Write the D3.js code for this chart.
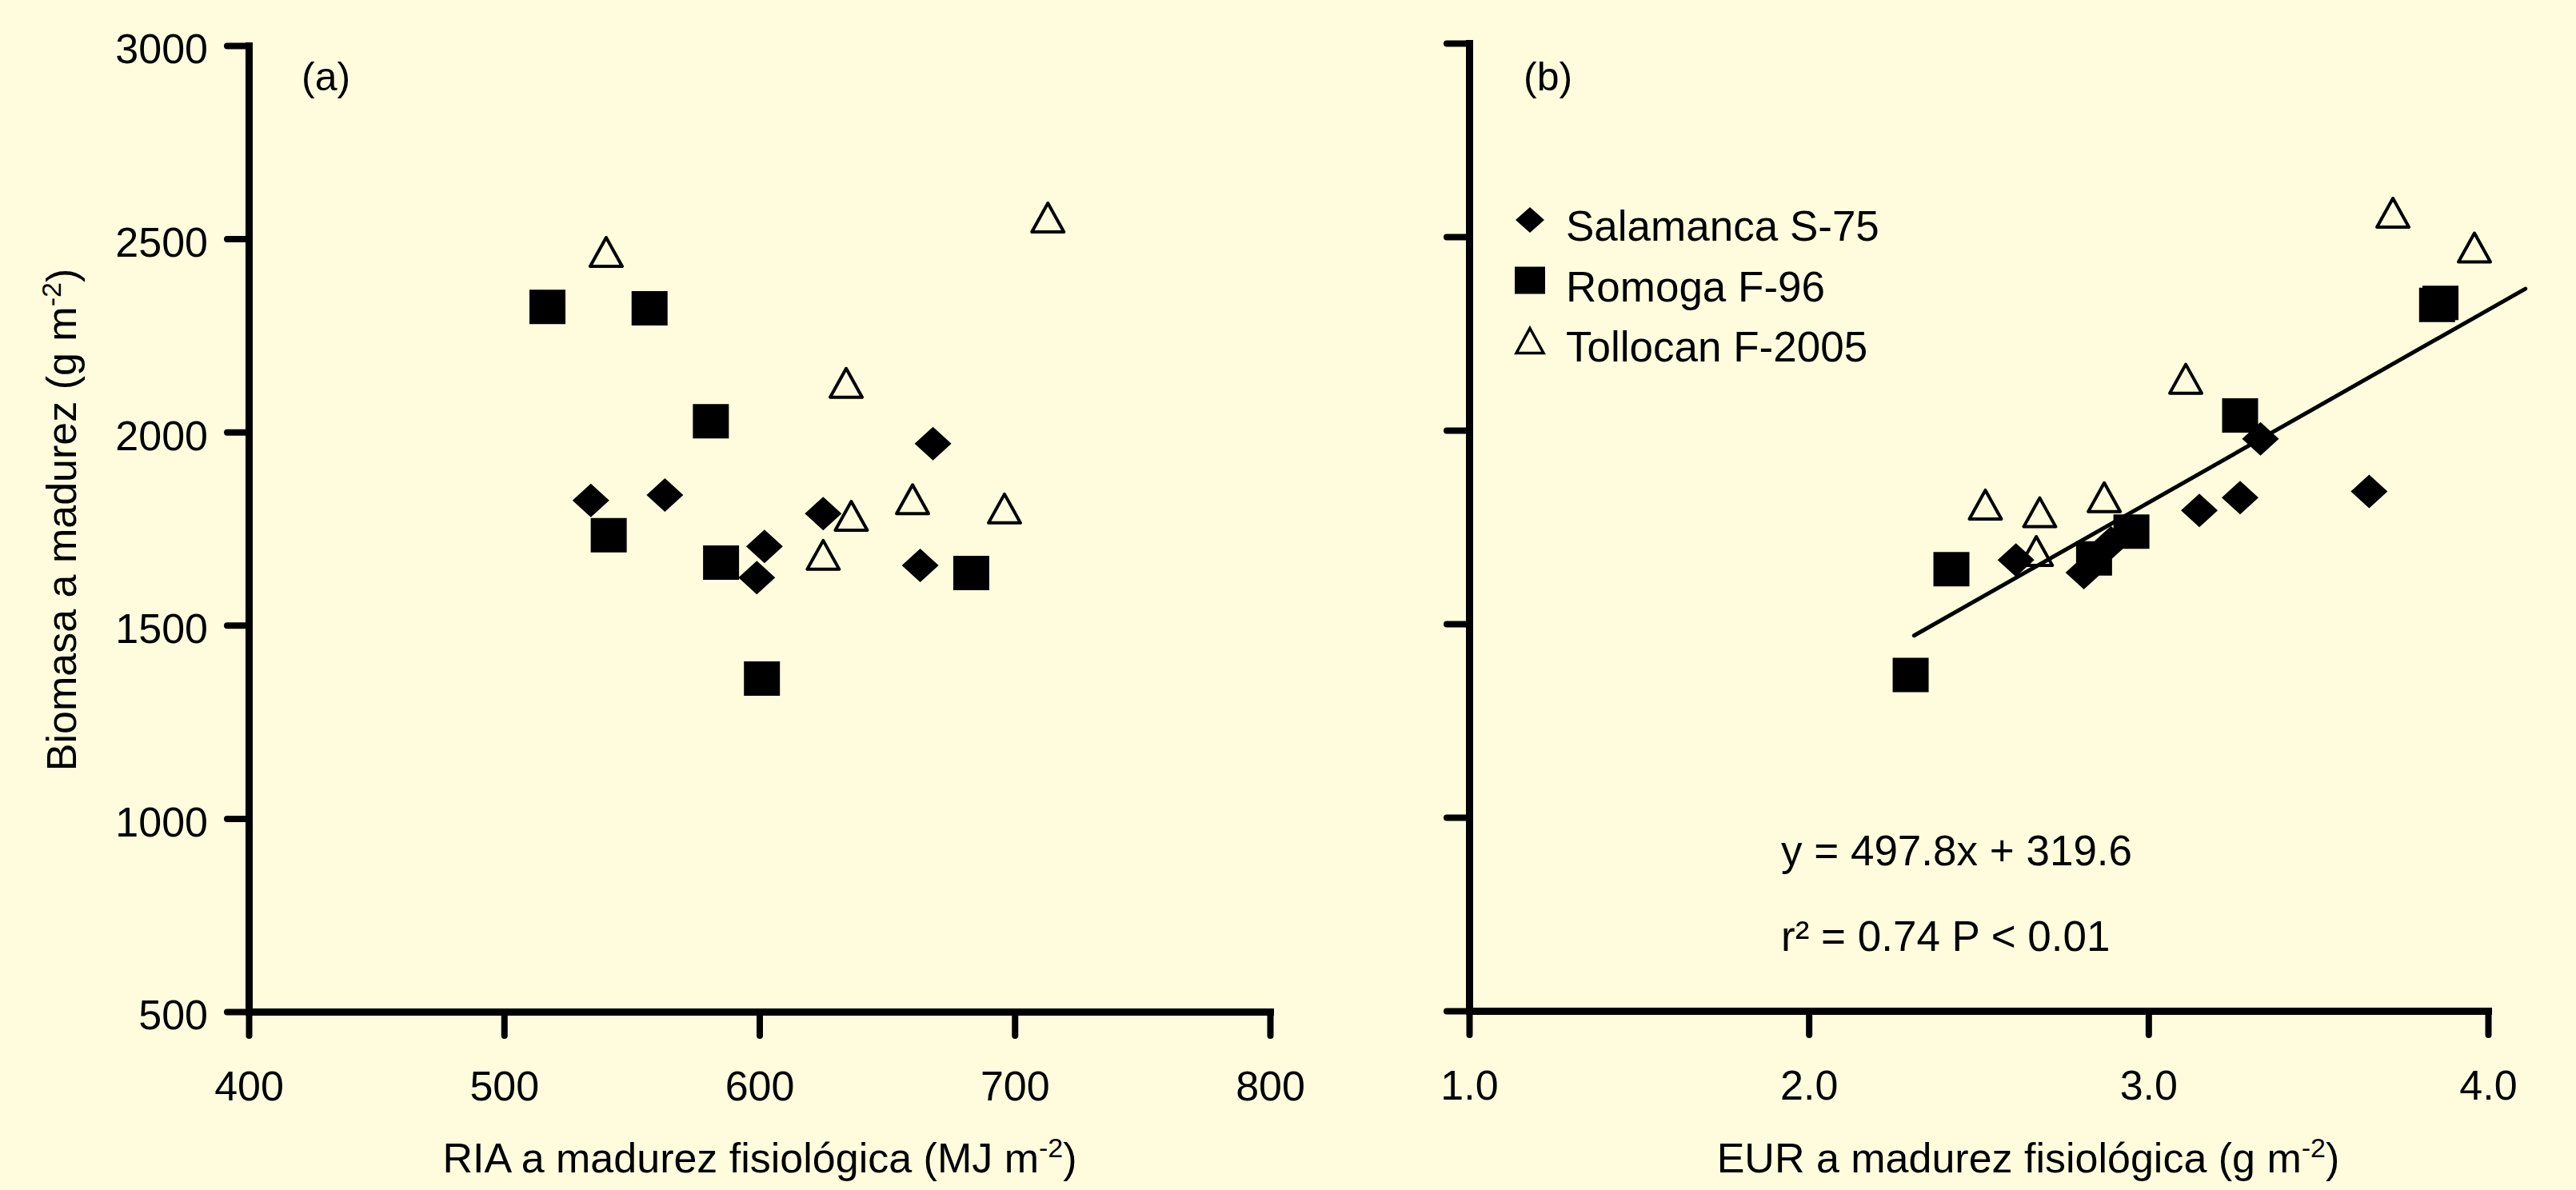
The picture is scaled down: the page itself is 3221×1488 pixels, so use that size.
<!DOCTYPE html>
<html><head><meta charset="utf-8">
<script src="https://cdn.jsdelivr.net/npm/d3@7"></script>
<style>html,body{margin:0;padding:0;background:#FFFCDD;}svg{display:block;}</style>
</head><body>
<script>
// ---- data ----
const seriesNames = ["Salamanca S-75", "Romoga F-96", "Tollocan F-2005"];
// panel (a): RIA (MJ m-2) vs biomass (g m-2)
const salRIA  = [534, 563, 625, 668, 602, 599, 663];
const salBioA = [1823, 1837, 1789, 1970, 1704, 1623, 1655];
const romRIA  = [517, 557, 581, 541, 585, 683, 601];
const romBioA = [2324, 2320, 2028, 1733, 1662, 1635, 1362];
const tolRIA  = [540, 713, 634, 636, 660, 696, 625];
const tolBioA = [2466, 2555, 2127, 1783, 1826, 1802, 1682];
// panel (b): EUR (g m-2) vs biomass (g m-2)
const salEUR  = [3.27, 3.65, 3.15, 3.33, 2.89, 2.81, 2.61];
const salBioB = [1826, 1842, 1793, 1978, 1709, 1632, 1665];
const romEUR  = [3.86, 3.85, 3.27, 2.95, 2.84, 2.42, 2.30];
const romBioB = [2329, 2324, 2038, 1738, 1669, 1641, 1368];
const tolEUR  = [3.96, 3.72, 3.11, 2.68, 2.87, 2.52, 2.67];
const tolBioB = [2472, 2562, 2133, 1788, 1827, 1808, 1688];
// regression
const regSlope = 497.8, regIntercept = 319.6, regRange = [2.31, 4.11];
const eqLines = ["y = 497.8x + 319.6", "r\u00B2 = 0.74 P < 0.01"];
// ticks
const yTicks = [500, 1000, 1500, 2000, 2500, 3000];
const xTicksA = [400, 500, 600, 700, 800];
const xTicksB = [1.0, 2.0, 3.0, 4.0];

// ---- layout ----
const W = 3221, H = 1488;
const FONT = "'Liberation Sans', Arial, Helvetica, sans-serif";
const svg = d3.select("body").append("svg").attr("width", W).attr("height", H)
  .style("font-family", FONT);
svg.append("rect").attr("width", W).attr("height", H).attr("fill", "#FFFCDD");

const xA = d3.scaleLinear().domain([400, 800]).range([311, 1588]);
const yA = d3.scaleLinear().domain([500, 3000]).range([1265, 57]);
const xB = d3.scaleLinear().domain([1, 4]).range([1837, 3111]);
const yB = d3.scaleLinear().domain([500, 3000]).range([1264, 54]);

function styleAxis(g) {
  g.select(".domain").attr("stroke", "#000").attr("stroke-width", 9).attr("stroke-linecap", "square");
  g.selectAll(".tick line").attr("stroke", "#000").attr("stroke-width", 8).attr("stroke-linecap", "round");
  g.selectAll(".tick text").attr("fill", "#000").style("font-size", "52px").style("font-family", FONT);
}

// Panel A axes
const gyA = svg.append("g").attr("transform", `translate(${xA.range()[0]},0)`)
  .call(d3.axisLeft(yA).tickValues(yTicks).tickSize(27).tickSizeOuter(0).tickPadding(24).tickFormat(d3.format("d")));
styleAxis(gyA); gyA.selectAll(".tick text").attr("dy", "0.42em");
const gxA = svg.append("g").attr("transform", `translate(0,${yA.range()[0]})`)
  .call(d3.axisBottom(xA).tickValues(xTicksA).tickSize(30).tickSizeOuter(0).tickPadding(44).tickFormat(d3.format("d")));
styleAxis(gxA);

// Panel B axes
const gyB = svg.append("g").attr("transform", `translate(${xB.range()[0]},0)`)
  .call(d3.axisLeft(yB).tickValues(yTicks).tickSize(28).tickSizeOuter(0).tickFormat(""));
styleAxis(gyB);
const gxB = svg.append("g").attr("transform", `translate(0,${yB.range()[0]})`)
  .call(d3.axisBottom(xB).tickValues(xTicksB).tickSize(30).tickSizeOuter(0).tickPadding(44).tickFormat(d3.format(".1f")));
styleAxis(gxB);

// Titles
function titleWithSup(sel, main, sup, tail) {
  sel.append("tspan").text(main);
  sel.append("tspan").attr("baseline-shift", "super").style("font-size", "34px").text(sup);
  sel.append("tspan").text(tail);
}
const yTitle = svg.append("text").attr("transform", "translate(95,650) rotate(-90)")
  .attr("text-anchor", "middle").style("font-size", "52px").attr("fill", "#000");
titleWithSup(yTitle, "Biomasa a madurez (g m", "-2", ")");
const xTitleA = svg.append("text").attr("x", 950).attr("y", 1466)
  .attr("text-anchor", "middle").style("font-size", "52px").attr("fill", "#000");
titleWithSup(xTitleA, "RIA a madurez fisiológica (MJ m", "-2", ")");
const xTitleB = svg.append("text").attr("x", 2536).attr("y", 1466)
  .attr("text-anchor", "middle").style("font-size", "52px").attr("fill", "#000");
titleWithSup(xTitleB, "EUR a madurez fisiológica (g m", "-2", ")");

svg.append("text").attr("x", 377).attr("y", 113).style("font-size", "50px").text("(a)");
svg.append("text").attr("x", 1905).attr("y", 113).style("font-size", "50px").text("(b)");

// marker shapes
const diamondPath = (w, h) => `M0,${-h/2}L${w/2},0L0,${h/2}L${-w/2},0Z`;
const squarePath = (w, h) => `M${-w/2},${-h/2}H${w/2}V${h/2}H${-w/2}Z`;
const trianglePath = (w, h) => `M0,${-h/2}L${w/2},${h/2}L${-w/2},${h/2}Z`;

function drawSeries(g, xs, ys, xScale, yScale, kind) {
  const pts = xs.map((v, i) => [v, ys[i]]);
  const sel = g.selectAll(null).data(pts).enter().append("path")
    .attr("transform", d => `translate(${xScale(d[0])},${yScale(d[1])})`);
  if (kind === "diamond") sel.attr("d", diamondPath(46, 42)).attr("fill", "#000");
  else if (kind === "square") sel.attr("d", squarePath(45, 43)).attr("fill", "#000");
  else sel.attr("d", trianglePath(40, 36)).attr("fill", "none").attr("stroke", "#000")
      .attr("stroke-width", 4).attr("stroke-linejoin", "round");
}

const gA = svg.append("g");
drawSeries(gA, salRIA, salBioA, xA, yA, "diamond");
drawSeries(gA, romRIA, romBioA, xA, yA, "square");
drawSeries(gA, tolRIA, tolBioA, xA, yA, "triangle");

const gB = svg.append("g");
drawSeries(gB, salEUR, salBioB, xB, yB, "diamond");
drawSeries(gB, romEUR, romBioB, xB, yB, "square");
drawSeries(gB, tolEUR, tolBioB, xB, yB, "triangle");

// regression line
const line = d3.line().x(d => xB(d)).y(d => yB(regSlope * d + regIntercept));
gB.append("path").datum(regRange).attr("d", line).attr("fill", "none")
  .attr("stroke", "#000").attr("stroke-width", 5).attr("stroke-linecap", "round");

// equation
svg.selectAll(".eq").data(eqLines).enter().append("text").attr("class", "eq")
  .attr("x", 2227).attr("y", (d, i) => 1082 + i * 107)
  .style("font-size", "53px").attr("fill", "#000").text(d => d);

// legend
const legKinds = ["diamond", "square", "triangle"];
const leg = svg.append("g").attr("transform", "translate(1913,275)");
const legItems = leg.selectAll("g").data(seriesNames).enter().append("g")
  .attr("transform", (d, i) => `translate(0,${i * 75.5})`);
legItems.append("path").attr("d", (d, i) => {
    const k = legKinds[i];
    return k === "diamond" ? diamondPath(36, 32) : k === "square" ? squarePath(38, 34) : trianglePath(34, 31);
  })
  .attr("fill", (d, i) => legKinds[i] === "triangle" ? "none" : "#000")
  .attr("stroke", (d, i) => legKinds[i] === "triangle" ? "#000" : "none")
  .attr("stroke-width", 3.5);
legItems.append("text").attr("x", 45).attr("y", 26).style("font-size", "53px").attr("fill", "#000").text(d => d);
</script>
</body></html>
